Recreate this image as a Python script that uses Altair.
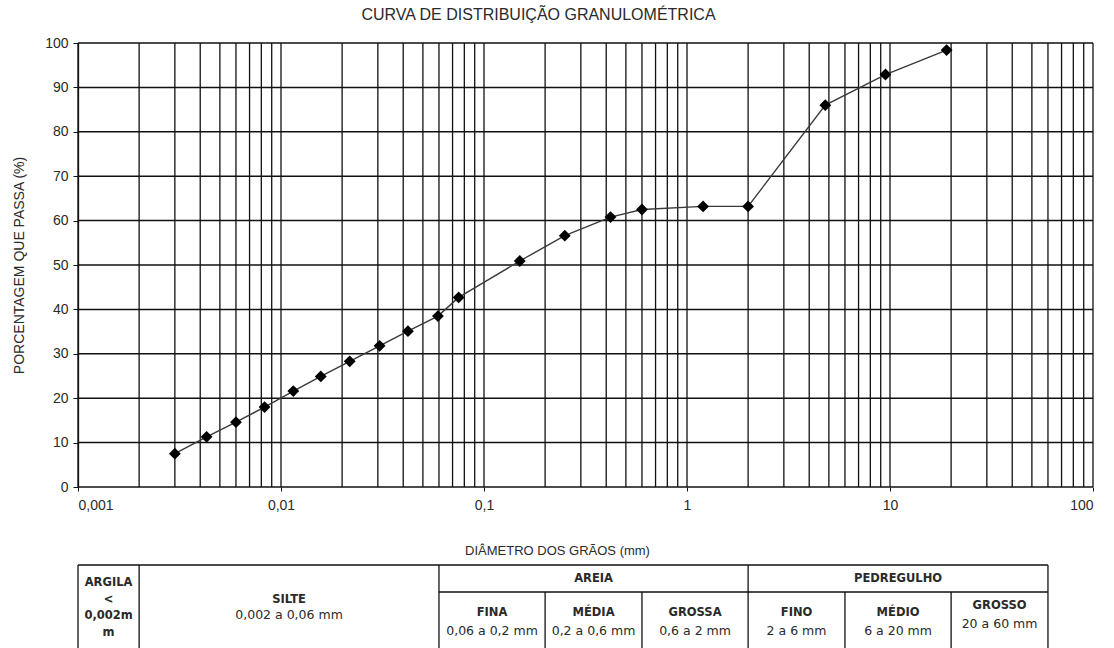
import altair as alt
import pandas as pd

# ---- labels ----
title_text = "CURVA DE DISTRIBUIÇÃO GRANULOMÉTRICA"
x_title = "DIÂMETRO DOS GRÃOS (mm)"
y_title = "PORCENTAGEM QUE PASSA (%)"

# ---- sieve / sedimentation results ----
diameter_mm = [0.003, 0.0043, 0.006, 0.0083, 0.0115, 0.0157, 0.0218, 0.0306, 0.0422,
               0.0593, 0.075, 0.15, 0.25, 0.42, 0.6, 1.2, 2.0, 4.8, 9.5, 19.0]
passing_pct = [7.5, 11.3, 14.6, 18.0, 21.6, 24.9, 28.3, 31.8, 35.1,
               38.5, 42.7, 50.9, 56.6, 60.8, 62.5, 63.2, 63.2, 86.0, 92.9, 98.4]

# ---- axes ----
x_decades = [0.001, 0.01, 0.1, 1, 10, 100]
y_ticks = [0, 10, 20, 30, 40, 50, 60, 70, 80, 90, 100]
minor_steps = [1, 2, 3, 4, 5, 6, 7, 8, 9]

# ---- classification table (ABNT) ----
table_bounds = [0.001, 0.002, 0.06, 0.2, 0.6, 2, 6, 20, 60]
clay_lines = ["ARGILA", "<", "0,002m", "m"]
silt_name, silt_range = "SILTE", "0,002 a 0,06 mm"
group_names = ["AREIA", "PEDREGULHO"]
group_bounds = [(0.06, 2), (2, 60)]
sub_names = ["FINA", "MÉDIA", "GROSSA", "FINO", "MÉDIO", "GROSSO"]
sub_ranges = ["0,06 a 0,2 mm", "0,2 a 0,6 mm", "0,6 a 2 mm",
              "2 a 6 mm", "6 a 20 mm", "20 a 60 mm"]

W, H = 1015, 444
INK = "#111111"
TXT = "#2a2a2a"
AXIS_FONT = "Liberation Sans"
TABLE_FONT = "DejaVu Sans"

xscale = alt.Scale(type="log", domain=[0.001, 100])
yscale = alt.Scale(domain=[0, 100])

grid_x = [k * d for d in x_decades[:-1] for k in minor_steps] + [x_decades[-1]]

curve = pd.DataFrame({"d": diameter_mm, "p": passing_pct})

vgrid = alt.Chart(pd.DataFrame({"d": grid_x})).mark_rule(
    color=INK, strokeWidth=1.3
).encode(x=alt.X("d:Q", scale=xscale))

hgrid = alt.Chart(pd.DataFrame({"p": y_ticks})).mark_rule(
    color=INK, strokeWidth=1.5
).encode(y=alt.Y("p:Q", scale=yscale))

axes = alt.Chart(curve).mark_point(opacity=0).encode(
    x=alt.X(
        "d:Q", scale=xscale,
        axis=alt.Axis(
            values=x_decades, grid=False, domain=False, tickSize=4,
            tickColor=INK, labelPadding=7,
            labelExpr="replace(toString(datum.value), '.', ',')",
            labelFont=AXIS_FONT, labelFontSize=14, labelColor=TXT,
            title=x_title, titleFont=AXIS_FONT, titleFontSize=13,
            titleFontWeight="normal", titleColor=TXT, titlePadding=32,
            titleX=479, titleAlign="center",
        ),
    ),
    y=alt.Y(
        "p:Q", scale=yscale,
        axis=alt.Axis(
            values=y_ticks, grid=False, domainColor=INK, domainWidth=1.3,
            tickSize=5, tickColor=INK, labelPadding=5,
            labelFont=AXIS_FONT, labelFontSize=14, labelColor=TXT,
            title=y_title, titleFont=AXIS_FONT, titleFontSize=14,
            titleFontWeight="normal", titleColor=TXT, titlePadding=18,
        ),
    ),
)

line = alt.Chart(curve).mark_line(color="#3a3a3a", strokeWidth=1.4).encode(
    x=alt.X("d:Q", scale=xscale), y=alt.Y("p:Q", scale=yscale)
)
pts = alt.Chart(curve).mark_point(
    shape="diamond", filled=True, color="#000000", size=140, opacity=1
).encode(x=alt.X("d:Q", scale=xscale), y=alt.Y("p:Q", scale=yscale))

# ---- table drawn under the plot, columns follow the diameter scale ----
TOP, SPLIT, BOTTOM = 522, 549, 640


def hline(lo, hi, ypx):
    return alt.Chart(pd.DataFrame({"a": [lo], "b": [hi]})).mark_rule(
        color=INK, strokeWidth=1.3
    ).encode(x=alt.X("a:Q", scale=xscale), x2="b:Q", y=alt.value(ypx))


def vlines(vals, y0, y1):
    return alt.Chart(pd.DataFrame({"a": vals})).mark_rule(
        color=INK, strokeWidth=1.3
    ).encode(x=alt.X("a:Q", scale=xscale), y=alt.value(y0), y2=alt.value(y1))


def cell_text(labels, bounds, ypx, bold, size):
    centers = [(lo * hi) ** 0.5 for lo, hi in bounds]
    df = pd.DataFrame({"c": centers, "t": labels})
    return alt.Chart(df).mark_text(
        font=TABLE_FONT, fontSize=size, fontWeight="bold" if bold else "normal",
        color=TXT, baseline="middle", align="center",
    ).encode(x=alt.X("c:Q", scale=xscale), y=alt.value(ypx), text="t:N")


sub_bounds = list(zip(table_bounds[2:-1], table_bounds[3:]))
clay_b = [(table_bounds[0], table_bounds[1])]
silt_b = [(table_bounds[1], table_bounds[2])]

NAME_SIZE, RANGE_SIZE = 11.5, 12.5
table = [
    hline(table_bounds[0], table_bounds[-1], TOP),
    hline(table_bounds[2], table_bounds[-1], SPLIT),
    vlines([table_bounds[0], table_bounds[1], table_bounds[2], 2, table_bounds[-1]], TOP, BOTTOM),
    vlines([0.2, 0.6, 6, 20], SPLIT, BOTTOM),
]
for i, ln in enumerate(clay_lines):
    table.append(cell_text([ln], clay_b, 540 + 16.5 * i, True, NAME_SIZE))
table.append(cell_text([silt_name], silt_b, 557, True, NAME_SIZE))
table.append(cell_text([silt_range], silt_b, 572, False, RANGE_SIZE))
table.append(cell_text(group_names, group_bounds, 536, True, NAME_SIZE))
table.append(cell_text(sub_names[:5], sub_bounds[:5], 570, True, NAME_SIZE))
table.append(cell_text(sub_ranges[:5], sub_bounds[:5], 588, False, RANGE_SIZE))
table.append(cell_text(sub_names[5:], sub_bounds[5:], 563, True, NAME_SIZE))
table.append(cell_text(sub_ranges[5:], sub_bounds[5:], 581, False, RANGE_SIZE))

chart = alt.layer(vgrid, hgrid, axes, line, pts, *table).properties(
    width=W, height=H,
    background="white",
    autosize=alt.AutoSizeParams(type="none"),
    padding={"left": 78, "top": 43, "right": 21, "bottom": 161},
    title=alt.TitleParams(
        title_text, font=AXIS_FONT, fontSize=16, fontWeight="normal",
        color=TXT, offset=13, dx=-47, anchor="middle",
    ),
).configure_view(stroke=None)

chart.save("out.html", embed_options={"renderer": "svg", "actions": False})
